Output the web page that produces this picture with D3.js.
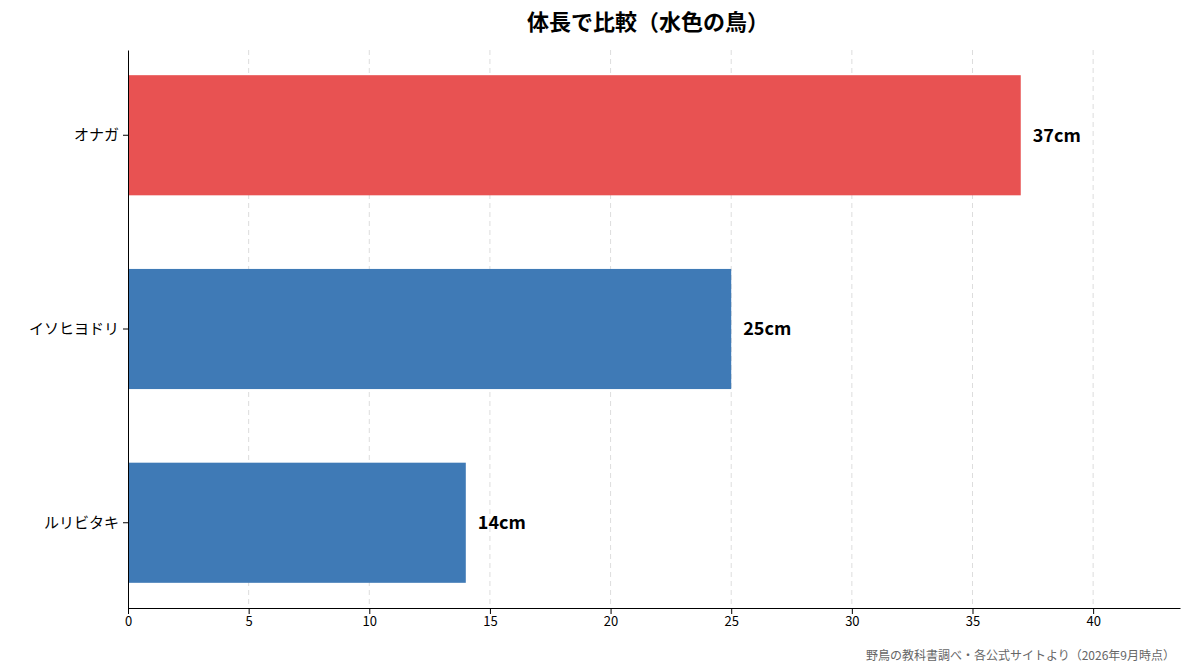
<!DOCTYPE html>
<html><head><meta charset="utf-8">
<script src="https://cdn.jsdelivr.net/npm/d3@7"></script>
<style>body{margin:0;background:#fff}text{font-family:"Noto Sans CJK JP","Noto Sans",sans-serif}</style>
</head><body>
<script>
const names = ["オナガ", "イソヒヨドリ", "ルリビタキ"];
const lengths = [37, 25, 14];
const colors = ["#e85252", "#3f7ab6", "#3f7ab6"];
const ticks = [0, 5, 10, 15, 20, 25, 30, 35, 40];

const W = 1193, H = 672, m = {top: 50, right: 13, bottom: 64, left: 128};
const svg = d3.select("body").append("svg").attr("width", W).attr("height", H);

const x = d3.scaleLinear().domain([0, 43.6]).range([m.left, W - m.right]);
const y = d3.scaleBand().domain(names).range([m.top, H - m.bottom]).paddingInner(0.38).paddingOuter(0.13);

svg.append("g").selectAll("line").data(ticks.slice(1)).join("line")
    .attr("x1", d => x(d)).attr("x2", d => x(d))
    .attr("y1", m.top).attr("y2", H - m.bottom)
    .attr("stroke", "#ddd").attr("stroke-dasharray", "5,4");

svg.append("g").selectAll("rect").data(names).join("rect")
    .attr("x", x(0)).attr("y", d => y(d))
    .attr("width", (d, i) => x(lengths[i]) - x(0))
    .attr("height", y.bandwidth())
    .attr("fill", (d, i) => colors[i]);

svg.append("g").selectAll("text").data(names).join("text")
    .attr("x", (d, i) => x(lengths[i]) + 12)
    .attr("y", d => y(d) + y.bandwidth() / 2)
    .attr("dy", "0.35em")
    .attr("font-size", 18).attr("font-weight", "bold")
    .text((d, i) => lengths[i] + "cm");

const xa = svg.append("g").attr("transform", `translate(0,${H - m.bottom})`)
    .call(d3.axisBottom(x).tickValues(ticks).tickSizeOuter(0));
const ya = svg.append("g").attr("transform", `translate(${m.left},0)`)
    .call(d3.axisLeft(y).tickSizeOuter(0));
[xa, ya].forEach(a => {
  a.selectAll("text").attr("font-size", 13).attr("fill", "#000");
  a.select(".domain").attr("stroke", "#000");
});
ya.selectAll("text").attr("font-size", 15);
ya.selectAll(".tick line").attr("x2", -5);

svg.append("text").attr("x", 648).attr("y", 30).attr("text-anchor", "middle")
    .attr("font-size", 22).attr("font-weight", "bold").text("体長で比較（水色の鳥）");
svg.append("text").attr("x", 1175).attr("y", 660).attr("text-anchor", "end")
    .attr("font-size", 12).attr("fill", "#666").text("野鳥の教科書調べ・各公式サイトより（2026年9月時点）");
</script>
</body></html>
